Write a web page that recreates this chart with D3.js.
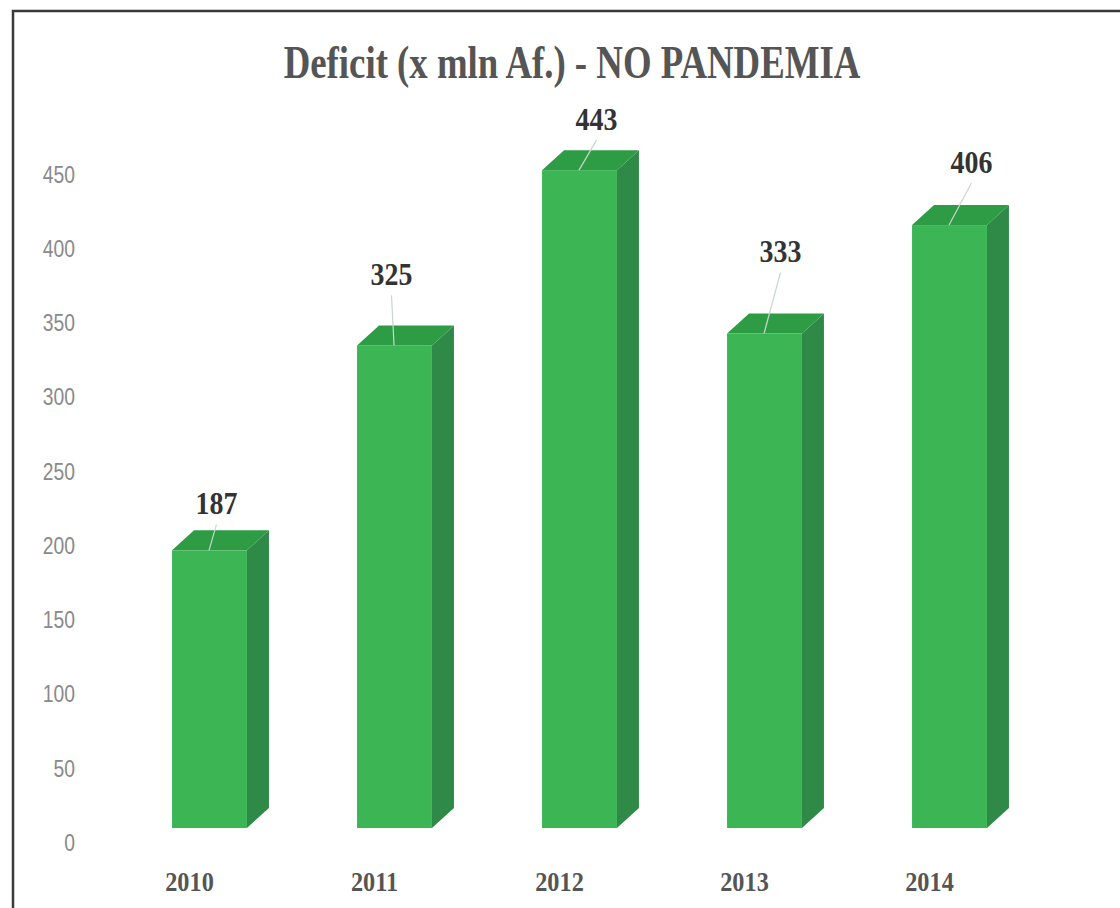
<!DOCTYPE html>
<html>
<head>
<meta charset="utf-8">
<script src="https://cdn.jsdelivr.net/npm/d3@7"></script>
<style>
  body { margin: 0; background: #fff; }
  #chart svg { display: block; }
</style>
</head>
<body>
<div id="chart"></div>
<script>
// values
var years = ["2010", "2011", "2012", "2013", "2014"];
var deficit = [187, 325, 443, 333, 406];
var yTicks = [0, 50, 100, 150, 200, 250, 300, 350, 400, 450];

// hand-dragged label nudges (dx from bar centre, dy above top)
var labelDx = [7, -3, 17, 16, 22];
var labelDy = [36, 60, 40, 71, 52];

const chartWidth = 1120;
const chartHeight = 908;
const baseY = 828;
const depthX = 22;
const depthY = 20;

var serif = "'Liberation Serif', 'Times New Roman', serif";

function createChart() {
  var svg = d3.select("#chart")
              .append("svg")
              .attr("width", chartWidth)
              .attr("height", chartHeight);

  // frame
  svg.append("path")
    .attr("d", "M13,908 L13,11 L1120,11")
    .attr("fill", "none")
    .attr("stroke", "#3a3a3a")
    .attr("stroke-width", 2.5);

  // title is a tall condensed serif in the original
  svg.append("g")
    .attr("transform", "translate(572,78) scale(0.8,1)")
    .append("text")
    .attr("text-anchor", "middle")
    .style("font-family", serif)
    .style("font-weight", "bold")
    .style("font-size", "46px")
    .style("fill", "#555")
    .text("Deficit (x mln Af.) - NO PANDEMIA");

  var xScale = d3.scaleBand()
                .domain(years)
                .range([117, 1042])
                .paddingInner(0.595)
                .paddingOuter(0.2975);

  var yScale = d3.scaleLinear()
                .domain([0, 450])
                .range([baseY, baseY - 450 * 1.485]);

  var bw = xScale.bandwidth();
  var data = years.map(function(y, i) { return { year: y, value: deficit[i], i: i }; });

  var bars = svg.selectAll("g.bar")
    .data(data)
    .enter()
    .append("g")
    .attr("class", "bar");

  // right side
  bars.append("path")
    .attr("d", function(d) {
      var x = xScale(d.year) + bw, t = yScale(d.value);
      return "M" + x + "," + t + " L" + (x + depthX) + "," + (t - depthY) +
             " L" + (x + depthX) + "," + (baseY - depthY) + " L" + x + "," + baseY + "Z";
    })
    .attr("fill", "#2f8a47");

  // top
  bars.append("path")
    .attr("d", function(d) {
      var x = xScale(d.year), t = yScale(d.value);
      return "M" + x + "," + t + " L" + (x + depthX) + "," + (t - depthY) +
             " L" + (x + bw + depthX) + "," + (t - depthY) + " L" + (x + bw) + "," + t + "Z";
    })
    .attr("fill", "#2d9c45");

  // front
  bars.append("rect")
    .attr("x", function(d) { return xScale(d.year); })
    .attr("y", function(d) { return yScale(d.value); })
    .attr("width", bw)
    .attr("height", function(d) { return baseY - yScale(d.value); })
    .attr("fill", "#3cb555");

  // leader lines
  bars.append("line")
    .attr("x1", function(d) { return xScale(d.year) + bw / 2 + labelDx[d.i]; })
    .attr("y1", function(d) { return yScale(d.value) - labelDy[d.i] + 10; })
    .attr("x2", function(d) { return xScale(d.year) + 37; })
    .attr("y2", function(d) { return yScale(d.value); })
    .attr("stroke", "#c9d6cc")
    .attr("stroke-width", 1.2);

  bars.append("g")
    .attr("transform", function(d) {
      return "translate(" + (xScale(d.year) + bw / 2 + labelDx[d.i]) + "," +
             (yScale(d.value) - labelDy[d.i]) + ") scale(0.9,1)";
    })
    .append("text")
    .attr("text-anchor", "middle")
    .style("font-family", serif)
    .style("font-weight", "bold")
    .style("font-size", "31px")
    .style("fill", "#333")
    .text(function(d) { return d.value; });

  // y axis labels sit a bit below the front plane
  var yAxis = d3.axisLeft()
              .scale(yScale)
              .tickValues(yTicks)
              .tickSize(0)
              .tickPadding(0);

  var gy = svg.append("g")
    .attr("transform", "translate(75,15)")
    .call(yAxis);
  gy.select(".domain").remove();
  gy.selectAll("text")
    .attr("transform", "scale(0.84,1)")
    .style("font-family", "'Liberation Sans', Arial, sans-serif")
    .style("font-size", "23px")
    .style("fill", "#8a8a8a");

  var xAxis = d3.axisBottom()
              .scale(xScale)
              .tickSize(0)
              .tickPadding(0);

  var gx = svg.append("g")
    .attr("transform", "translate(-20,872)")
    .call(xAxis);
  gx.select(".domain").remove();
  gx.selectAll("text")
    .attr("transform", "scale(0.9,1)")
    .style("font-family", serif)
    .style("font-weight", "bold")
    .style("font-size", "27px")
    .style("fill", "#555");
}

createChart();
</script>
</body>
</html>
